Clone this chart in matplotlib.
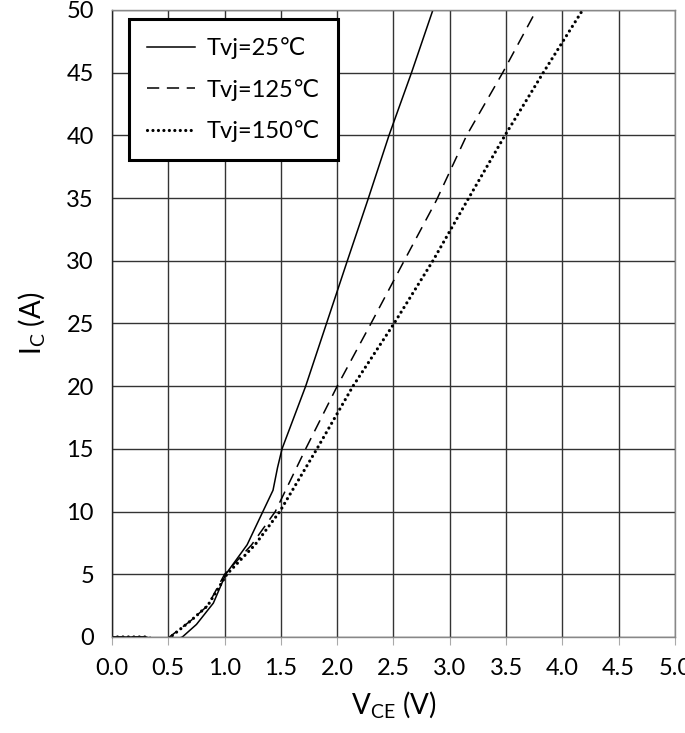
import matplotlib
matplotlib.use("Agg")
import matplotlib.pyplot as plt

plt.rcParams['font.family'] = ['Lato', 'DejaVu Sans']
plt.rcParams['mathtext.fontset'] = 'custom'
plt.rcParams['mathtext.rm'] = 'Lato'
plt.rcParams['mathtext.it'] = 'Lato:italic'

# output characteristic
vce_25 = [0.0, 0.30, 0.36, 0.45, 0.625, 0.75, 0.90, 1.01, 1.20, 1.34, 1.43, 1.47, 1.51, 1.72, 1.905, 2.09, 2.27, 2.46, 2.66, 2.85, 2.87]
ic_25 = [0.0, 0.0, -0.15, -0.6, 0.0, 1.0, 2.7, 5.0, 7.35, 10.0, 11.7, 13.5, 15.0, 20.0, 25.0, 30.0, 34.8, 40.0, 45.0, 50.0, 50.5]

vce_125 = [0.0, 0.30, 0.36, 0.45, 0.51, 0.70, 0.85, 1.00, 1.24, 1.45, 1.72, 2.00, 2.30, 2.595, 2.88, 3.15, 3.47, 3.77, 3.80]
ic_125 = [0.0, 0.0, -0.15, -0.6, 0.0, 1.3, 2.5, 5.0, 7.35, 10.0, 15.0, 20.0, 25.0, 30.0, 34.8, 40.0, 45.0, 50.0, 50.5]

vce_150 = [0.0, 0.30, 0.36, 0.45, 0.52, 0.70, 0.85, 1.02, 1.27, 1.49, 1.82, 2.14, 2.505, 2.85, 3.155, 3.49, 3.83, 4.18, 4.22]
ic_150 = [0.0, 0.0, -0.15, -0.6, 0.0, 1.3, 2.5, 5.0, 7.35, 10.0, 15.0, 20.0, 25.0, 30.0, 34.8, 40.0, 45.0, 50.0, 50.5]

labels = ['Tvj=25℃', 'Tvj=125℃', 'Tvj=150℃']

xticks = [0.0, 0.5, 1.0, 1.5, 2.0, 2.5, 3.0, 3.5, 4.0, 4.5, 5.0]
yticks = [0, 5, 10, 15, 20, 25, 30, 35, 40, 45, 50]

fig = plt.figure(figsize=(6.85, 7.33), dpi=100)
ax = fig.add_axes([0.1635, 0.131, 0.8219, 0.8554])

ax.plot(vce_25, ic_25, color='black', lw=1.1, label=labels[0])
ax.plot(vce_125, ic_125, color='black', lw=1.1, linestyle=(0, (8, 5)), label=labels[1])
ax.plot(vce_150, ic_150, color='black', lw=2.3, linestyle=(0, (0.01, 1.7)),
        dash_capstyle='round', label=labels[2])

ax.set_xlim(0, 5)
ax.set_ylim(0, 50)
ax.set_xticks(xticks)
ax.set_xticklabels(['%.1f' % v for v in xticks])
ax.set_yticks(yticks)
ax.grid(True, color='#333333', lw=1.0)
ax.set_axisbelow(True)

for s in ['top', 'right', 'bottom']:
    ax.spines[s].set_color('#888888')
ax.spines['left'].set_color('#222222')
for s in ax.spines.values():
    s.set_linewidth(1.0)

ax.tick_params(axis='x', direction='out', length=6, color='#aaaaaa', labelsize=17, pad=9)
ax.tick_params(axis='y', length=0, labelsize=17, pad=13)

ax.set_xlabel(r'$\mathrm{V_{CE}}$ (V)', fontsize=20, labelpad=7)
ax.set_ylabel(r'$\mathrm{I_C}$ (A)', fontsize=20, labelpad=14)

leg = ax.legend(loc='upper left', bbox_to_anchor=(0.030, 0.9856), borderaxespad=0,
                fontsize=17, fancybox=False, framealpha=1, edgecolor='black',
                handlelength=2.0, handletextpad=0.5, labelspacing=0.82, borderpad=0.78)
leg.get_frame().set_linewidth(2.2)

fig.savefig('out.png', dpi=100)
